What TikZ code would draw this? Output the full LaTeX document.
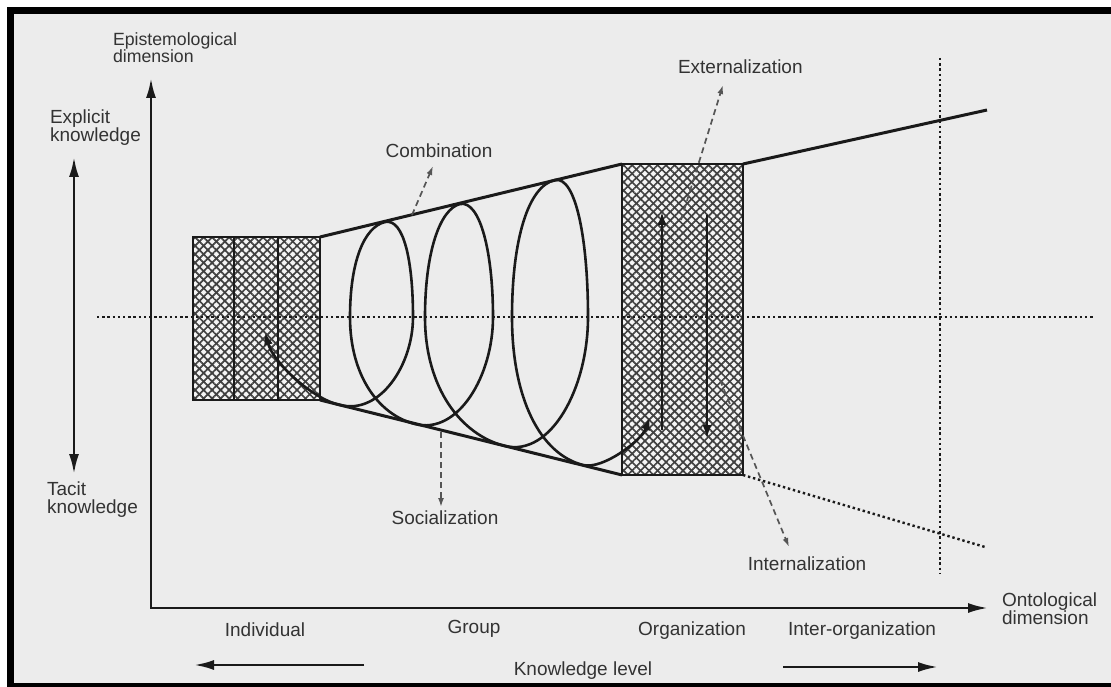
\documentclass[tikz,border=0pt]{standalone}
\usepackage{fontspec}
\setmainfont{Liberation Sans}
\usetikzlibrary{arrows.meta,patterns.meta}
\definecolor{paper}{HTML}{ECECEC}
\definecolor{ink}{HTML}{1A1A1A}
\definecolor{txt}{HTML}{333333}
\definecolor{dashc}{HTML}{555555}
\definecolor{hatchc}{HTML}{404040}
\begin{document}
\begin{tikzpicture}[x=1pt,y=-1pt,
  lbl/.style={font=\fontsize{19}{18}\selectfont, text=txt, inner sep=0pt, outer sep=0pt},
  lbltwo/.style={lbl, align=left, anchor=north west},
  hatchbox/.style={draw=ink, line width=2.6pt, inner sep=0pt, outer sep=0pt,
    preaction={fill=white!96!black},
    preaction={pattern={Lines[angle=45,distance=6pt,line width=1.7pt]}, pattern color=hatchc},
    preaction={pattern={Lines[angle=-45,distance=6pt,line width=1.7pt]}, pattern color=hatchc}},
  boxline/.style={draw=ink, line width=2.6pt},
  cone/.style={draw=ink, line width=3pt},
  axisline/.style={draw=ink, line width=2.6pt, arrows={-Latex[length=20pt,width=10pt]}},
  dotline/.style={draw=ink, line width=2.4pt, dash pattern=on 2.4pt off 2.8pt},
  modearrow/.style={draw=dashc, line width=1.7pt, dash pattern=on 6pt off 4pt, arrows={-Latex[length=9pt,width=6pt]}},
  inarrow/.style={draw=ink, line width=2pt, arrows={-Latex[length=13pt,width=9pt]}},
  spiral/.style={draw=ink, line width=2.6pt, arrows={Latex[length=13pt,width=9pt]-Latex[length=13pt,width=9pt]}}
]
\useasboundingbox (0,0) rectangle (1111,687);
% paper and frame
\fill[white] (0,0) rectangle (1111,687);
\fill[paper] (14,14) rectangle (1111,683);
\fill[black] (7,7) rectangle (1111,14);
\fill[black] (7,7) rectangle (14,687);
\fill[black] (7,683) rectangle (1111,687);

% coordinates
\coordinate (O) at (151,608);
\coordinate (ytip) at (151,78);
\coordinate (xtip) at (988,608);
\coordinate (eup) at (74,157);
\coordinate (edn) at (74,474);
\coordinate (conetop) at (987,110);
\coordinate (conebot) at (985,547);
\coordinate (hl) at (97,317);
\coordinate (hr) at (1093,317);
\coordinate (vt) at (940,58);
\coordinate (vb) at (940,573);

% boxes
\node[hatchbox, minimum width=127pt, minimum height=163pt] (ind) at (256.5,318.5) {};
\draw[boxline] (ind.north west) ++(41,0) -- ++(0,163);
\draw[boxline] (ind.north west) ++(85,0) -- ++(0,163);
\node[hatchbox, minimum width=121pt, minimum height=311pt] (org) at (682.5,319.5) {};

% cone
\draw[cone] (ind.north east) -- (org.north west);
\draw[cone] (org.north east) -- (conetop);
\draw[cone] (ind.south east) -- (org.south west);
\draw[dotline] (org.south east) -- (conebot);

% dotted guide lines
\draw[dotline] (hl) -- (hr);
\draw[dotline] (vt) -- (vb);

% axes
\draw[axisline, arrows={Latex[length=20pt,width=10pt]-Latex[length=20pt,width=10pt]}] (ytip) -- (O) -- (xtip);
\draw[axisline, arrows={Latex[length=20pt,width=10pt]-Latex[length=20pt,width=10pt]}] (eup) -- (edn);

% spiral
\coordinate (sp0) at (265,332);
\draw[spiral] (sp0)
  .. controls (273,362) and (312,399) .. (340,405)
  .. controls (380,415) and (413,365) .. (413,317)
  .. controls (413,262) and (404,218) .. (385,222)
  .. controls (364,227) and (350,262) .. (350,317)
  .. controls (350,376) and (379,415) .. (415,424)
  .. controls (458,435) and (493,376) .. (493,317)
  .. controls (493,252) and (480,200) .. (460,204)
  .. controls (440,209) and (425,252) .. (425,317)
  .. controls (425,388) and (461,435) .. (505,446)
  .. controls (551,457) and (588,388) .. (588,317)
  .. controls (588,240) and (576,176) .. (555,180)
  .. controls (528,186) and (512,240) .. (512,317)
  .. controls (512,398) and (540,454) .. (583,465)
  .. controls (603,470) and (642,440) .. (650,417);

% arrows inside organization box
\coordinate (u0) at (662,430); \coordinate (u1) at (662,212);
\coordinate (d0) at (707,215); \coordinate (d1) at (707,438);
\draw[inarrow] (u0) -- (u1);
\draw[inarrow] (d0) -- (d1);

% labels
\node[lbltwo, font=\fontsize{17.7}{17}\selectfont] (epi) at (113,33) {Epistemological\\dimension};
\node[lbltwo] (expl) at (50,110) {Explicit\\knowledge};
\node[lbltwo] (tacit) at (47,482) {Tacit\\knowledge};
\node[lbltwo] (onto) at (1002,593) {Ontological\\dimension};
\node[lbl, anchor=base] (comb) at (439,158) {Combination};
\node[lbl, anchor=base west] (ext) at (678,74) {Externalization};
\node[lbl, anchor=base] (soc) at (445,524) {Socialization};
\node[lbl, anchor=base] (intern) at (807,570) {Internalization};
\node[lbl, anchor=base] (indiv) at (265,636) {Individual};
\node[lbl, anchor=base] (group) at (474,633) {Group};
\node[lbl, anchor=base] (orgn) at (692,635) {Organization};
\node[lbl, anchor=base] (inter) at (862,635) {Inter-organization};
\node[lbl, anchor=base] (klevel) at (583,675) {Knowledge level};

% mode arrows
\coordinate (c0) at (412,215); \coordinate (c1) at (433,166);
\coordinate (e0) at (681,220); \coordinate (e1) at (723,85);
\coordinate (i0) at (720,380); \coordinate (i1) at (789,547);
\coordinate (s0) at (441,432); \coordinate (s1) at (441,507);
\draw[modearrow] (c0) -- (c1);
\draw[modearrow] (e0) -- (e1);
\draw[modearrow] (i0) -- (i1);
\draw[modearrow] (s0) -- (s1);

% knowledge level arrows
\coordinate (kl0) at (364,665); \coordinate (kl1) at (194,665);
\coordinate (kr0) at (783,667); \coordinate (kr1) at (938,667);
\draw[axisline] (kl0) -- (kl1);
\draw[axisline] (kr0) -- (kr1);
\end{tikzpicture}
\end{document}
